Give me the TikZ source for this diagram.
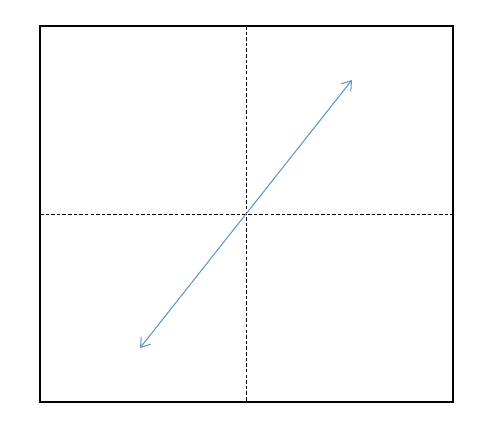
\documentclass[tikz,border=0pt]{standalone}
\usetikzlibrary{arrows.meta}
\definecolor{linkblue}{RGB}{95,150,205}

\begin{document}
\begin{tikzpicture}[x=0.02cm,y=-0.02cm]
            \useasboundingbox (0,0) rectangle (501,442);
            \coordinate (tl) at (40,26);
            \coordinate (br) at (453,402);
            \coordinate (top) at (246,26);
            \coordinate (bottom) at (246,402);
            \coordinate (left) at (40,214);
            \coordinate (right) at (453,214);
            \coordinate (start) at (140,348);
            \coordinate (end) at (352,80);
            \draw[line width=0.04cm] (tl) rectangle (br);
            \draw[line width=0.45pt, dash pattern=on 2pt off 1.2pt] (top) -- (bottom);
            \draw[line width=0.45pt, dash pattern=on 2pt off 1.2pt] (left) -- (right);
            \draw[linkblue, line width=0.6pt, {Straight Barb[length=5pt,width=7pt]}-{Straight Barb[length=5pt,width=7pt]}] (start) -- (end);
        \end{tikzpicture}
\end{document}
